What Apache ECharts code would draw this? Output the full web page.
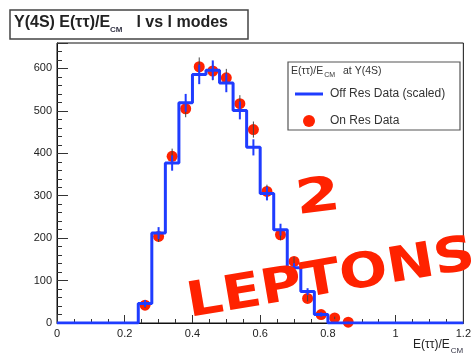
<!DOCTYPE html>
<html>
<head>
<meta charset="utf-8">
<script src="https://cdn.jsdelivr.net/npm/echarts@6/dist/echarts.min.js"></script>
<style>
  html, body { margin: 0; padding: 0; background: #fff; }
  #chart { width: 474px; height: 355px; }
</style>
</head>
<body>
<div id="chart"></div>
<script>
// Histogram binning of E(tautau)/E_CM: 30 bins of width 0.04 from 0 to 1.2
const binLow = 0;
const binWidth = 0.04;
// Off-resonance data (scaled), content per bin
const offRes = [0, 0, 0, 0, 0, 0, 46, 212, 377, 519, 586, 596, 566, 501, 414,
                305, 220, 130, 74, 20, 0, 0, 0, 0, 0, 0, 0, 0, 0, 0];
// Statistical errors on the off-resonance histogram
const offErr = [0, 0, 0, 0, 0, 0, 8, 14, 18, 21, 23, 23, 22, 21, 19,
                16, 14, 11, 8, 5, 0, 0, 0, 0, 0, 0, 0, 0, 0, 0];
// On-resonance data points at bin centres
const onResX = [0.26, 0.30, 0.34, 0.38, 0.42, 0.46, 0.50, 0.54, 0.58, 0.62,
                0.66, 0.70, 0.74, 0.78, 0.82, 0.86];
const onRes = [42, 204, 393, 505, 604, 594, 578, 517, 456, 310,
               208, 145, 58, 20, 12, 2];
const onErr = [6, 13, 18, 20, 22, 22, 21, 20, 19, 16, 13, 11, 7, 4, 3, 1];

const xTicks = { min: 0, max: 1.2, step: 0.2 };
const yTicks = { min: 0, max: 660, step: 100, minorStep: 20 };

const FONT = 'Liberation Sans';
const RED = '#ff2200';
const BLUE = '#1f3cff';

// step outline points: left edge of each bin, plus closing right edge
const stepData = offRes.map((v, i) => [+(binLow + i * binWidth).toFixed(4), v]);
stepData.push([+(binLow + offRes.length * binWidth).toFixed(4), offRes[offRes.length - 1]]);

// blue error crosses at bin centres (only where the bin has content)
const offErrData = [];
offRes.forEach((v, i) => {
  if (v > 0) offErrData.push([+(binLow + (i + 0.5) * binWidth).toFixed(4), v, offErr[i]]);
});
const onErrData = onResX.map((x, i) => [x, onRes[i], onErr[i]]);

function errBar(color, width) {
  return function (params, api) {
    const x = api.value(0), y = api.value(1), e = api.value(2);
    const top = api.coord([x, y + e]);
    const bot = api.coord([x, y - e]);
    return {
      type: 'line',
      shape: { x1: top[0], y1: top[1], x2: bot[0], y2: bot[1] },
      style: { stroke: color, lineWidth: width }
    };
  };
}

const chart = echarts.init(document.getElementById('chart'), null, { renderer: 'canvas' });

const axisText = { fontFamily: FONT, fontSize: 11, color: '#222' };

chart.setOption({
  animation: false,
  backgroundColor: '#fff',
  grid: {
    left: 57, top: 43, right: 5, bottom: 32,
    show: true, borderColor: '#111', borderWidth: 1, backgroundColor: 'transparent'
  },
  xAxis: {
    type: 'value', min: xTicks.min, max: xTicks.max, interval: xTicks.step,
    axisLine: { lineStyle: { color: '#111', width: 1 } },
    axisTick: { inside: true, length: 8, lineStyle: { color: '#333' } },
    minorTick: { show: true, splitNumber: 4, length: 4, lineStyle: { color: '#333' } },
    splitLine: { show: false },
    axisLabel: Object.assign({ margin: 5 }, axisText)
  },
  yAxis: [
    {
      type: 'value', min: yTicks.min, max: yTicks.max, interval: yTicks.step,
      axisLine: { show: true, lineStyle: { color: '#111', width: 1 } },
      axisTick: { inside: true, length: 11, lineStyle: { color: '#333' } },
      splitLine: { show: false },
      axisLabel: Object.assign({
        margin: 5,
        formatter: v => (v % yTicks.step === 0 ? String(v) : '')
      }, axisText)
    },
    {
      type: 'value', min: yTicks.min, max: yTicks.max, interval: yTicks.minorStep,
      position: 'left', offset: 0,
      axisLine: { show: false },
      axisTick: { show: true, inside: true, length: 5, lineStyle: { color: '#333' } },
      splitLine: { show: false },
      axisLabel: { show: false }
    }
  ],
  legend: {
    data: [
      { name: 'Off Res Data (scaled)', icon: 'path://M0,0L28,0L28,3L0,3Z' },
      { name: 'On Res Data', icon: 'circle' }
    ],
    symbolKeepAspect: true,
    orient: 'vertical',
    left: 290, top: 83,
    itemWidth: 28, itemHeight: 12, itemGap: 15,
    textStyle: { fontFamily: FONT, fontSize: 12, color: '#333', padding: [0, 0, 0, 2] },
    z: 6
  },
  series: [
    {
      name: 'On Res Data',
      type: 'scatter',
      data: onResX.map((x, i) => [x, onRes[i]]),
      symbol: 'circle', symbolSize: 11,
      itemStyle: { color: RED, opacity: 1 },
      z: 2
    },
    {
      type: 'custom',
      renderItem: errBar('#444', 1),
      data: onErrData,
      z: 3
    },
    {
      name: 'Off Res Data (scaled)',
      type: 'line',
      step: 'end',
      data: stepData,
      symbol: 'none',
      lineStyle: { color: BLUE, width: 3 },
      itemStyle: { color: BLUE },
      z: 4
    },
    {
      type: 'custom',
      renderItem: errBar(BLUE, 2),
      data: offErrData,
      z: 5
    }
  ],
  graphic: [
    // title pave
    {
      type: 'rect', z: 10,
      shape: { x: 10, y: 10, width: 238, height: 29 },
      style: { fill: '#fff', stroke: '#444', lineWidth: 1.5 }
    },
    {
      type: 'text', z: 11, x: 14, y: 12,
      style: {
        text: 'Υ(4S) E(ττ)/E{sub|CM}  l vs l modes',
        fontFamily: FONT, fontWeight: 'bold', fontSize: 16, fill: '#222',
        rich: { sub: { fontFamily: FONT, fontWeight: 'bold', fontSize: 8, fill: '#334', padding: [14, 5, 0, 0] } }
      }
    },
    // legend pave
    {
      type: 'rect', z: 5,
      shape: { x: 288, y: 62, width: 172, height: 68 },
      style: { fill: '#fff', stroke: '#555', lineWidth: 1.2 }
    },
    {
      type: 'text', z: 7, x: 291, y: 64,
      style: {
        text: 'E(ττ)/E{sub|CM} at Υ(4S)',
        fontFamily: FONT, fontSize: 10.5, fill: '#333',
        rich: { sub: { fontFamily: FONT, fontSize: 7, fill: '#333', padding: [8, 5, 0, 1] } }
      }
    },
    // axis title
    {
      type: 'text', z: 11, x: 413, y: 335,
      style: {
        text: 'E(ττ)/E{sub|CM}',
        fontFamily: FONT, fontSize: 12, fill: '#222',
        rich: { sub: { fontFamily: FONT, fontSize: 8, fill: '#334', padding: [12, 0, 0, 1] } }
      }
    },
    // hand annotation
    {
      type: 'text', z: 100, x: 318, y: 199, rotation: 0.12, scaleX: 1.15, scaleY: 0.85,
      style: {
        text: '2', fontFamily: 'DejaVu Sans', fontWeight: 'bold', fontSize: 56,
        fill: RED, align: 'center', verticalAlign: 'middle'
      }
    },
    {
      type: 'text', z: 100, x: 331, y: 280, rotation: 0.17, scaleX: 1.03, scaleY: 0.88,
      style: {
        text: 'LEPTONS', fontFamily: 'DejaVu Sans', fontWeight: 'bold', fontSize: 55,
        fill: RED, align: 'center', verticalAlign: 'middle'
      }
    }
  ]
});
</script>
</body>
</html>
